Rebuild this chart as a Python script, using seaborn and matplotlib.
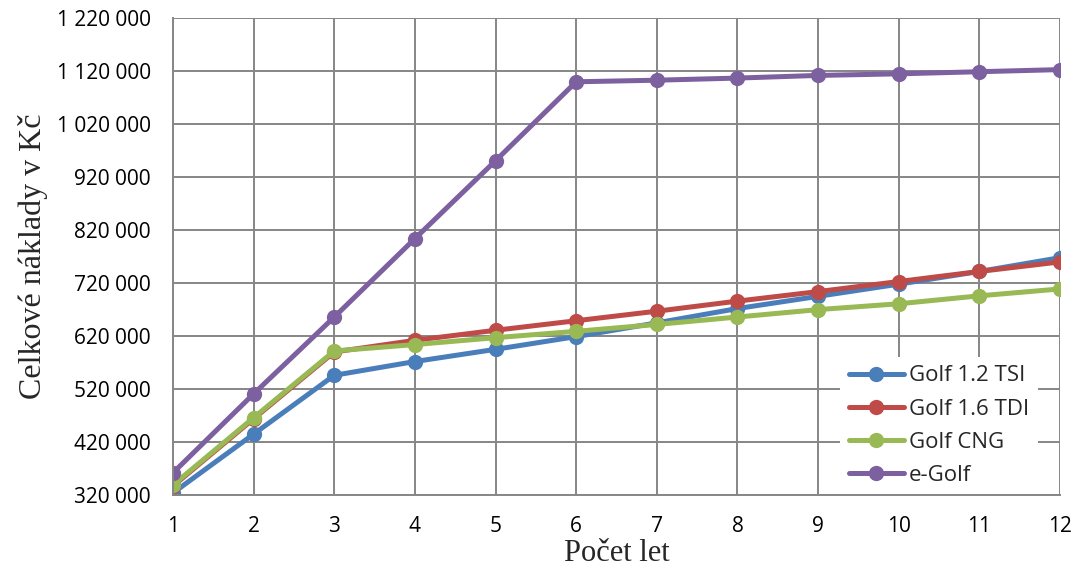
import matplotlib
matplotlib.use("Agg")
import matplotlib.pyplot as plt
import seaborn as sns
import pandas as pd
from matplotlib.ticker import FuncFormatter

years = [1, 2, 3, 4, 5, 6, 7, 8, 9, 10, 11, 12]
golf_tsi = [324000, 435000, 546000, 572000, 595000, 619000, 645000, 672000, 695000, 718000, 742000, 768000]
golf_tdi = [337000, 464000, 590000, 612000, 631000, 649000, 667000, 686000, 704000, 723000, 742000, 760000]
golf_cng = [339000, 466000, 592000, 604000, 617000, 629000, 642000, 656000, 670000, 681000, 696000, 709000]
e_golf = [362000, 511000, 656000, 804000, 951000, 1100000, 1103000, 1107000, 1112000, 1115000, 1119000, 1123000]
series_names = ["Golf 1.2 TSI", "Golf 1.6 TDI", "Golf CNG", "e-Golf"]
colors = ["#4A7EBB", "#BE4B48", "#98B954", "#7D60A0"]
y_ticks = [320000, 420000, 520000, 620000, 720000, 820000, 920000, 1020000, 1120000, 1220000]

sns.set_style("white")
plt.rcParams['font.family'] = ['Open Sans', 'DejaVu Sans']

rows = []
for name, vals in zip(series_names, [golf_tsi, golf_tdi, golf_cng, e_golf]):
    for x, v in zip(years, vals):
        rows.append({"Rok": x, "Náklady": v, "Vůz": name})
df = pd.DataFrame(rows)

fig = plt.figure(figsize=(10.78, 5.69), dpi=100)
ax = fig.add_axes([0.1605, 0.130, 0.8228, 0.838])

sns.lineplot(data=df, x="Rok", y="Náklady", hue="Vůz", hue_order=series_names,
             palette=colors, marker="o", markersize=11, markeredgewidth=0,
             linewidth=3.6, ax=ax)

ax.set_xlim(1, 12)
ax.set_ylim(y_ticks[0], y_ticks[-1])
ax.set_xticks(years)
ax.set_yticks(y_ticks)
ax.yaxis.set_major_formatter(FuncFormatter(lambda v, p: f"{int(round(v)):,}".replace(",", " ")))
ax.grid(True, color="#868686", linewidth=1.4)
ax.set_axisbelow(True)
for s in ["top", "right"]:
    ax.spines[s].set_visible(False)
for s in ["left", "bottom"]:
    ax.spines[s].set_color("#868686")
    ax.spines[s].set_linewidth(1.4)
ax.tick_params(axis="both", which="both", length=6, width=1.4, color="#868686",
               labelsize=15, direction="out", labelcolor="black")
ax.tick_params(axis="x", pad=9)
ax.tick_params(axis="y", pad=10)

ax.set_ylabel("Celkové náklady v Kč", family=["Liberation Serif"], fontsize=23)
ax.set_xlabel("Počet let", family=["Liberation Serif"], fontsize=22)
ax.yaxis.set_label_coords(-0.158, 0.5)
ax.yaxis.label.set_va("center")
ax.xaxis.set_label_coords(0.5, -0.123)
ax.xaxis.label.set_va("center")

leg = ax.legend(loc="lower right", bbox_to_anchor=(0.975, 0.0), borderaxespad=0.0,
                frameon=True, fontsize=16, handlelength=2.5, handletextpad=0.2,
                labelspacing=0.55, borderpad=0.4, fancybox=False, framealpha=1)
leg.get_frame().set_edgecolor("none")
leg.get_frame().set_facecolor("white")
leg.set_zorder(1.5)

fig.savefig("out.png", dpi=100)
